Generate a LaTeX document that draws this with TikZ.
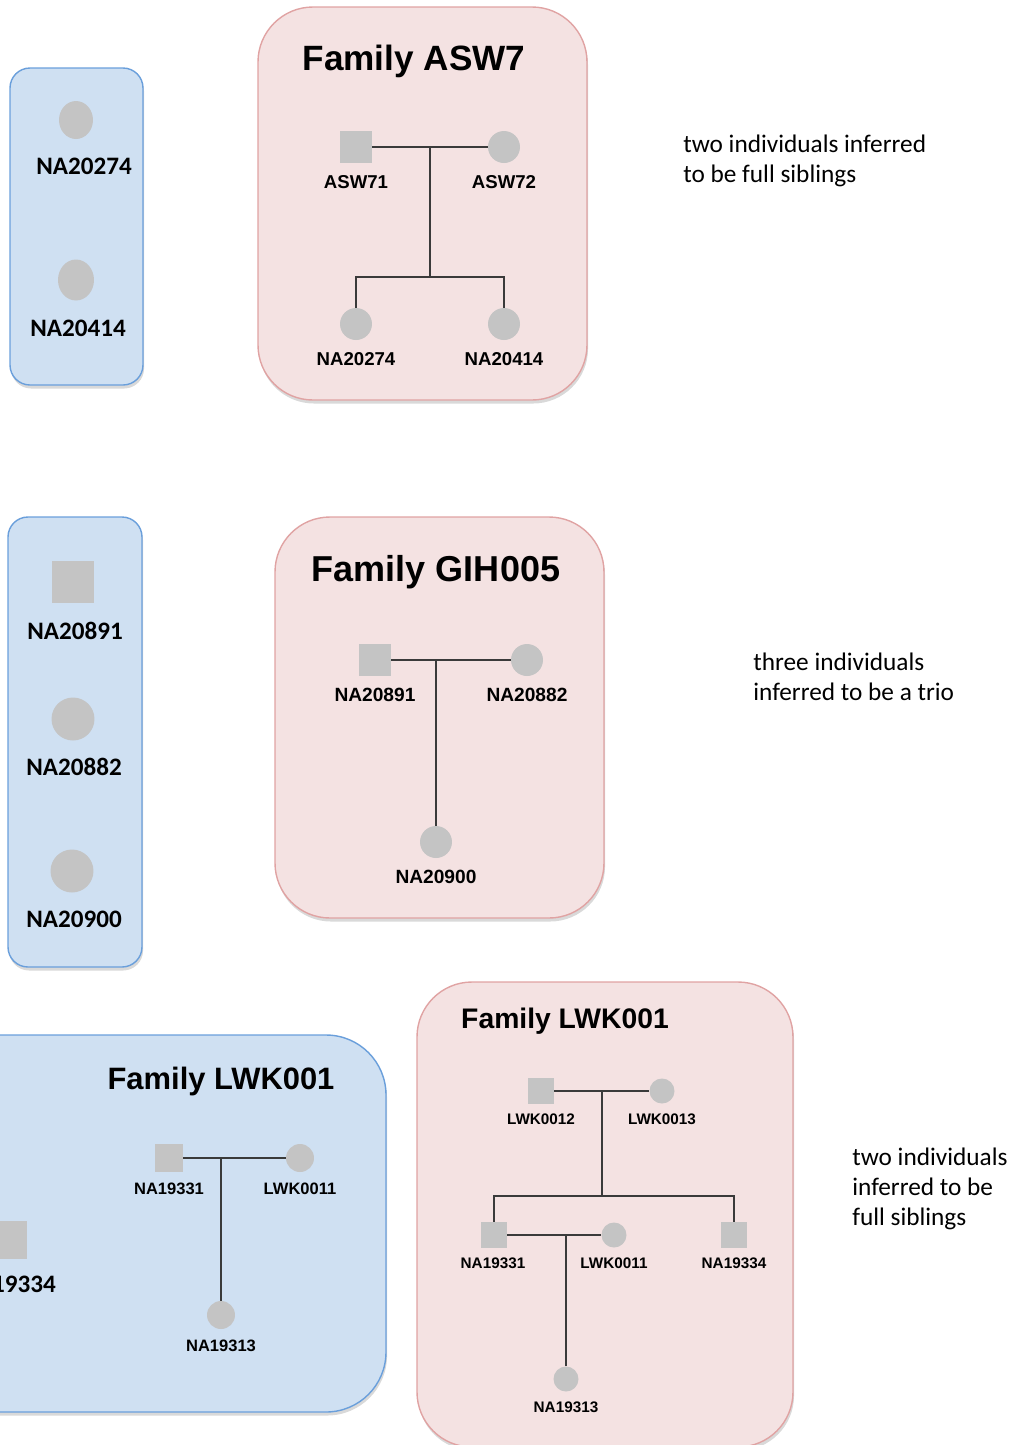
\documentclass[tikz,border=0pt]{standalone}
\usepackage{fontspec}
\setsansfont{Liberation Sans}
\newfontfamily\calib{Carlito}
\usetikzlibrary{shapes.geometric,shadows}

\definecolor{boxblue}{HTML}{CFE0F2}
\definecolor{edgeblue}{HTML}{6A9FDB}
\definecolor{boxpink}{HTML}{F4E2E2}
\definecolor{edgepink}{HTML}{E0A3A3}
\definecolor{indgray}{HTML}{C4C4C4}
\definecolor{linegray}{HTML}{3A3A3A}

\tikzset{
  bluebox/.style={draw=edgeblue, fill=boxblue, line width=0.8pt,
    drop shadow={shadow xshift=0.6pt, shadow yshift=-2pt, opacity=0.3}},
  pinkbox/.style={draw=edgepink, fill=boxpink, line width=0.8pt,
    drop shadow={shadow xshift=0.6pt, shadow yshift=-2pt, opacity=0.3}},
  male/.style={rectangle, fill=indgray, inner sep=0, minimum size=#1},
  male/.default=0.64cm,
  female/.style={ellipse, fill=indgray, inner sep=0, minimum width=#1, minimum height=#1},
  female/.default=0.64cm,
  kin/.style={draw=linegray, line width=0.7pt},
  ttl/.style={font=\sffamily\bfseries\fontsize{#1}{#1}\selectfont, inner sep=0},
  ttl/.default=20,
  lbl/.style={font=\sffamily\bfseries\fontsize{#1}{#1}\selectfont, inner sep=0},
  lbl/.default=10.6,
  biglbl/.style={font=\calib\bfseries\fontsize{14.3}{16}\selectfont, inner sep=0},
  note/.style={font=\calib\fontsize{14.4}{17}\selectfont, align=left, anchor=west, inner sep=0}
}

\begin{document}
\begin{tikzpicture}[x=0.02cm, y=-0.02cm]
\useasboundingbox (0,0) rectangle (1018,1445);
\clip (0,0) rectangle (1018,1445);

% family ASW7
\path[bluebox, rounded corners=0.4cm] (10,68) rectangle (143,385);
\node[female, minimum width=0.68cm, minimum height=0.76cm] (b20274) at (76,120) {};
\node[biglbl] (b20274t) at (84,166) {NA20274};
\node[female, minimum width=0.72cm, minimum height=0.82cm] (b20414) at (76,280) {};
\node[biglbl] (b20414t) at (78,328) {NA20414};

\path[pinkbox, rounded corners=1.1cm] (258,7) rectangle (587,400);
\node[ttl] (asw) at (414,61) {Family ASW7};
\node[male] (asw71) at (356,147) {};
\node[female] (asw72) at (504,147) {};
\node[female] (na20274) at (356,324) {};
\node[female] (na20414) at (504,324) {};
\coordinate (aswsib) at (430,277);
\draw[kin] (asw71) -- (asw72);
\draw[kin] (aswsib) -- (aswsib |- asw71);
\draw[kin] (na20274) |- (aswsib) -| (na20414);
\node[lbl] (asw71t) at (356,182) {ASW71};
\node[lbl] (asw72t) at (504,182) {ASW72};
\node[lbl] (na20274t) at (356,359) {NA20274};
\node[lbl] (na20414t) at (504,359) {NA20414};

\node[note] (n1) at (683,161) {two individuals inferred\\to be full siblings};

% family GIH005
\path[bluebox, rounded corners=0.4cm] (8,517) rectangle (142,967);
\node[male=0.84cm] (b20891) at (73,582) {};
\node[biglbl] (b20891t) at (75,631) {NA20891};
\node[female=0.86cm] (b20882) at (73,719) {};
\node[biglbl] (b20882t) at (74,767) {NA20882};
\node[female=0.86cm] (b20900) at (72,871) {};
\node[biglbl] (b20900t) at (74,919) {NA20900};

\path[pinkbox, rounded corners=1.1cm] (275,517) rectangle (604,918);
\node[ttl=20.5] (gih) at (436,572) {Family GIH005};
\node[male] (na20891) at (375,660) {};
\node[female] (na20882) at (527,660) {};
\node[female] (na20900) at (436,842) {};
\draw[kin] (na20891) -- (na20882);
\draw[kin] (na20900) -- (na20900 |- na20891);
\node[lbl=10.9] (na20891t) at (375,695) {NA20891};
\node[lbl=10.9] (na20882t) at (527,695) {NA20882};
\node[lbl=10.9] (na20900t) at (436,877) {NA20900};

\node[note] (n2) at (753,677) {three individuals\\inferred to be a trio};

% family LWK001, inferred
\path[bluebox, rounded corners=1.2cm] (-80,1035) rectangle (386,1412);
\node[ttl=17.6] (lwkb) at (221,1081) {Family LWK001};
\node[male=0.76cm] (b19334) at (8,1240) {};
\node[biglbl] (b19334t) at (8,1284) {NA19334};
\node[male=0.56cm] (lb19331) at (169,1158) {};
\node[female=0.56cm] (lb0011) at (300,1158) {};
\node[female=0.56cm] (lb19313) at (221,1315) {};
\draw[kin] (lb19331) -- (lb0011);
\draw[kin] (lb19313) -- (lb19313 |- lb19331);
\node[lbl=9.4] (lb19331t) at (169,1189) {NA19331};
\node[lbl=9.4] (lb0011t) at (300,1189) {LWK0011};
\node[lbl=9.4] (lb19313t) at (221,1346) {NA19313};

% family LWK001, pedigree
\path[pinkbox, rounded corners=1.1cm] (417,982) rectangle (793,1447);
\node[ttl=16.1] (lwkp) at (565,1021) {Family LWK001};
\node[male=0.52cm] (lp0012) at (541,1091) {};
\node[female=0.5cm] (lp0013) at (662,1091) {};
\node[male=0.52cm] (lp19331) at (494,1235) {};
\node[female=0.5cm] (lp0011) at (614,1235) {};
\node[male=0.52cm] (lp19334) at (734,1235) {};
\node[female=0.5cm] (lp19313) at (566,1379) {};
\coordinate (lwksib) at (602,1196);
\draw[kin] (lp0012) -- (lp0013);
\draw[kin] (lwksib) -- (lwksib |- lp0012);
\draw[kin] (lp19331) |- (lwksib) -| (lp19334);
\draw[kin] (lp19331) -- (lp0011);
\draw[kin] (lp19313) -- (lp19313 |- lp19331);
\node[lbl=8.7] (lp0012t) at (541,1119) {LWK0012};
\node[lbl=8.7] (lp0013t) at (662,1119) {LWK0013};
\node[lbl=8.7] (lp19331t) at (493,1263) {NA19331};
\node[lbl=8.7] (lp0011t) at (614,1263) {LWK0011};
\node[lbl=8.7] (lp19334t) at (734,1263) {NA19334};
\node[lbl=8.7] (lp19313t) at (566,1407) {NA19313};

\node[note] (n3) at (852,1189) {two individuals\\inferred to be\\full siblings};
\end{tikzpicture}
\end{document}
